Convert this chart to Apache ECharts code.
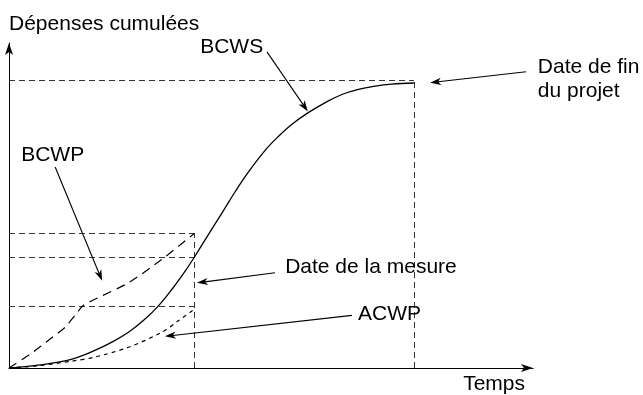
<!DOCTYPE html>
<html>
<head>
<meta charset="utf-8">
<script src="https://cdn.jsdelivr.net/npm/echarts@6/dist/echarts.min.js"></script>
<style>
  html, body { margin: 0; padding: 0; background: #fff; }
  #chart { width: 643px; height: 395px; }
</style>
</head>
<body>
<div id="chart"></div>
<script>
// Time runs so that the project ends at 100; spend is scaled so the total budget is 100.
const timeMax = 129.4;
const spendMax = 113;
const measureDate = 45.8;
const endDate = 100;
const budgetTotal = 100;

// Budgeted cost of work scheduled (planned S-curve)
const bcws = [
  [0, 0], [7.2, 1.0], [15.6, 3.1], [21.2, 6.1], [25.4, 9.0], [29.5, 12.4],
  [33.6, 17.0], [36.9, 21.6], [40.2, 27.3], [43.5, 33.7], [45.8, 38.6],
  [49.2, 46.3], [52.5, 53.7], [55.8, 61.2], [59.1, 68.1], [63.2, 75.6],
  [66.5, 80.5], [69.8, 84.7], [73.9, 88.8], [78.0, 92.2], [82.2, 95.1],
  [86.3, 96.9], [90.4, 98.0], [94.5, 98.7], [100, 99.1]
];
// Budgeted cost of work performed (earned value)
const bcwp = [
  [0, 0], [5.2, 4.8], [10.1, 10.0], [13.8, 14.1], [16.3, 18.3], [18.3, 21.7],
  [21.2, 23.9], [29.5, 29.6], [37.7, 37.7], [45.8, 46.8]
];
// Actual cost of work performed
const acwp = [
  [0, 0], [7.2, 0.8], [15.6, 2.4], [21.2, 3.8], [29.5, 7.2], [37.7, 12.4],
  [41.8, 16.4], [45.8, 20.5]
];
// Levels marked at the measurement date: BCWP, BCWS, ACWP
const measureLevels = [46.8, 38.6, 21.6];

// Callout arrows: [from, to] in chart units
const arrows = [
  [[63.7, 109.9], [73.8, 89.2]],
  [[11.4, 69.9], [23.0, 30.3]],
  [[65.7, 33.1], [46.4, 29.6]],
  [[84.7, 18.3], [38.5, 11.0]],
  [[127.7, 103.0], [104.0, 99.2]]
];
// Callout texts, anchored at their left edge / vertical middle
const notes = [
  { text: 'BCWS', at: [47.2, 111.6] },
  { text: 'BCWP', at: [3.0, 74.1] },
  { text: 'Date de la mesure', at: [68.2, 35.1] },
  { text: 'ACWP', at: [86.2, 18.6] },
  { text: 'Date de fin\ndu projet', at: [130.6, 100.3] }
];

const FONT = '"Liberation Sans", Arial, Helvetica, sans-serif';

const refSegments = [
  [[0, budgetTotal], [endDate, budgetTotal]],
  [[endDate, 0], [endDate, budgetTotal]],
  [[measureDate, 0], [measureDate, measureLevels[0]]]
].concat(measureLevels.map(v => [[0, v], [measureDate, v]]));

const axisCommon = {
  type: 'value',
  min: 0,
  axisTick: { show: false },
  axisLabel: { show: false },
  splitLine: { show: false }
};

const option = {
  animation: false,
  backgroundColor: '#fff',
  textStyle: { fontFamily: FONT },
  grid: { left: 9, right: 110, top: 43, bottom: 24, containLabel: false },
  xAxis: Object.assign({}, axisCommon, {
    max: timeMax,
    name: 'Temps',
    nameLocation: 'end',
    nameGap: -8,
    nameTextStyle: { fontSize: 21, color: '#000', align: 'right', verticalAlign: 'top', lineHeight: 21, padding: [6, 0, 0, 0] },
    axisLine: { show: true, onZero: false, symbol: ['none', 'arrow'], symbolSize: [6, 12], lineStyle: { color: '#000', width: 1 } }
  }),
  yAxis: Object.assign({}, axisCommon, {
    max: spendMax,
    name: 'Dépenses cumulées',
    nameLocation: 'end',
    nameGap: 19,
    nameTextStyle: { fontSize: 21, color: '#000', align: 'left', verticalAlign: 'middle' },
    axisLine: { show: true, onZero: false, symbol: ['none', 'arrow'], symbolSize: [6, 12], lineStyle: { color: '#000', width: 1 } }
  }),
  series: [
    {
      name: 'repères',
      type: 'lines',
      coordinateSystem: 'cartesian2d',
      silent: true,
      z: 1,
      data: refSegments.map(c => ({ coords: c })),
      lineStyle: { color: '#333', width: 1, type: [6, 4], opacity: 1 }
    },
    {
      name: 'BCWS',
      type: 'line',
      data: bcws,
      smooth: 0.4,
      showSymbol: false,
      z: 3,
      lineStyle: { color: '#000', width: 1.3 }
    },
    {
      name: 'BCWP',
      type: 'line',
      data: bcwp,
      smooth: 0.2,
      showSymbol: false,
      z: 3,
      lineStyle: { color: '#000', width: 1.2, type: [9, 6] }
    },
    {
      name: 'ACWP',
      type: 'line',
      data: acwp,
      smooth: 0.3,
      showSymbol: false,
      z: 3,
      lineStyle: { color: '#000', width: 1.2, type: [4, 4] }
    }
  ]
};

const chart = echarts.init(document.getElementById('chart'), null, { renderer: 'canvas' });
chart.setOption(option);

// Callouts are placed through the grid's own scales
const toPx = p => chart.convertToPixel({ gridIndex: 0 }, p);
const graphics = [];
arrows.forEach(([from, to]) => {
  const p1 = toPx(from);
  const p2 = toPx(to);
  const ang = Math.atan2(p2[1] - p1[1], p2[0] - p1[0]);
  const c = Math.cos(ang), s = Math.sin(ang);
  const local = (u, v) => [p2[0] + u * c - v * s, p2[1] + u * s + v * c];
  const L = 11, hw = 3.6, notch = 3;
  const base = local(-L + notch, 0);
  graphics.push({
    type: 'line', silent: true, z: 10,
    shape: { x1: p1[0], y1: p1[1], x2: base[0], y2: base[1] },
    style: { stroke: '#000', lineWidth: 1.1 }
  });
  graphics.push({
    type: 'polygon', silent: true, z: 10,
    shape: { points: [local(0, 0), local(-L, hw), base, local(-L, -hw)] },
    style: { fill: '#000' }
  });
});
notes.forEach(n => {
  const p = toPx(n.at);
  graphics.push({
    type: 'text', silent: true, z: 10,
    x: p[0], y: p[1],
    style: {
      text: n.text, fontSize: 21, fontFamily: FONT, fill: '#000',
      align: 'left', verticalAlign: 'middle', lineHeight: 24
    }
  });
});
chart.setOption({ graphic: graphics });
</script>
</body>
</html>
